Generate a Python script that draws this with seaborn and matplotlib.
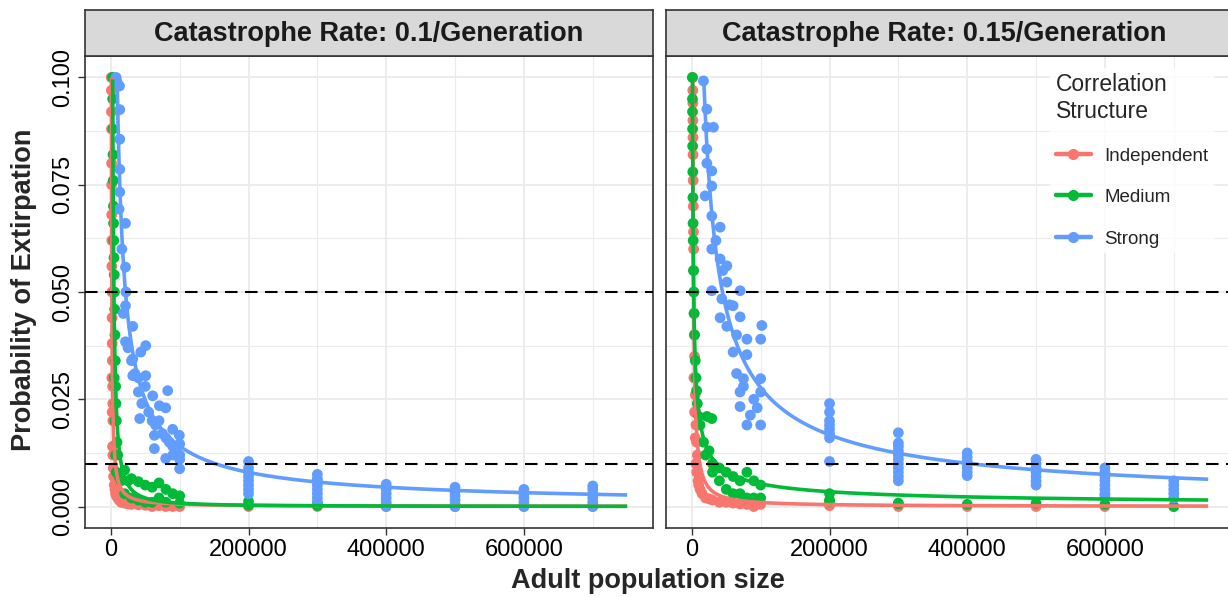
import numpy as np
import pandas as pd
import matplotlib
matplotlib.use("Agg")
import matplotlib.pyplot as plt
from matplotlib.lines import Line2D
import seaborn as sns

# ---------------- data ----------------
panels = ["Catastrophe Rate: 0.1/Generation", "Catastrophe Rate: 0.15/Generation"]
structures = ["Independent", "Medium", "Strong"]
colors = ["#F8766D", "#00BA38", "#619CFF"]
x_ticks = [0, 200000, 400000, 600000]
y_ticks = [0.000, 0.025, 0.050, 0.075, 0.100]
y_tick_labels = ["0.000", "0.025", "0.050", "0.075", "0.100"]
thresholds = [0.05, 0.01]

# Panel 1: catastrophe rate 0.1
p1_ind_x = [600, 800, 900, 1000, 1100, 1200, 1300, 1400, 1500, 1600, 1800, 2000, 2200, 2500, 2800,
            3000, 1500, 2000, 2500, 3000, 3500, 4000, 5000, 6000, 7000, 8000, 10000, 12000, 15000,
            20000, 25000, 30000, 40000, 50000, 60000, 70000, 80000, 90000, 100000,
            200000, 300000, 400000, 500000, 600000, 700000]
p1_ind_y = [0.100, 0.097, 0.092, 0.088, 0.080, 0.075, 0.068, 0.062, 0.056, 0.050, 0.044, 0.038,
            0.034, 0.028, 0.024, 0.020, 0.030, 0.022, 0.014, 0.012, 0.009, 0.007, 0.005, 0.004,
            0.003, 0.0025, 0.002, 0.0015, 0.001, 0.0008, 0.0006, 0.0005, 0.0004, 0.0003, 0.0,
            0.0002, 0.0, 0.0, 0.0, 0.0, 0.0, 0.0, 0.0, 0.0, 0.0]

p1_med_x = [2500, 2700, 3000, 3200, 3500, 3800, 4000, 4300, 4600, 5000, 5300, 5600, 6000, 6500,
            7000, 7500, 8000, 9000, 10000, 5000, 6000, 7000, 8000, 12000, 15000, 20000, 20000,
            25000, 30000, 30000, 40000, 40000, 50000, 50000, 60000, 60000, 70000, 70000, 80000,
            80000, 90000, 100000, 100000, 200000, 200000, 300000, 300000, 400000, 500000, 600000,
            700000]
p1_med_y = [0.100, 0.095, 0.088, 0.082, 0.076, 0.070, 0.066, 0.062, 0.058, 0.054, 0.050, 0.046,
            0.040, 0.034, 0.028, 0.024, 0.020, 0.015, 0.012, 0.030, 0.020, 0.012, 0.008, 0.007,
            0.006, 0.0085, 0.003, 0.006, 0.0065, 0.002, 0.0058, 0.0015, 0.005, 0.001, 0.0045,
            0.001, 0.0055, 0.002, 0.004, 0.001, 0.003, 0.0025, 0.0008, 0.0012, 0.0003, 0.0008,
            0.0002, 0.0003, 0.0002, 0.0002, 0.0002]

p1_str_x = [7700, 9000, 12600, 13000, 13000, 13000, 13000, 12000, 21300, 21300, 22000, 21300,
            31900, 21300, 50700, 43500, 31900, 31900, 50700, 40000, 82600, 60900, 42000, 70500,
            79700, 63300, 89800, 99500, 63300, 79700, 100000, 100000, 100000, 90000, 70000, 50000,
            30000, 40000, 60000, 80000, 90000, 100000, 55000, 65000, 75000, 85000, 95000, 35000,
            45000, 25000, 16000, 18000,
            200000, 200000, 200000, 200000, 200000, 200000, 200000, 200000,
            300000, 300000, 300000, 300000, 300000, 300000, 300000, 300000,
            400000, 400000, 400000, 400000, 400000, 400000,
            500000, 500000, 500000, 500000, 500000, 500000,
            600000, 600000, 600000, 600000, 600000,
            700000, 700000, 700000, 700000, 700000, 700000]
p1_str_y = [0.100, 0.099, 0.098, 0.0925, 0.0856, 0.0786, 0.0733, 0.0693, 0.066, 0.0558, 0.050,
            0.0468, 0.042, 0.0384, 0.0375, 0.036, 0.0344, 0.0305, 0.0305, 0.0267, 0.027, 0.0258,
            0.0205, 0.0235, 0.023, 0.0166, 0.018, 0.0166, 0.0135, 0.0112, 0.0088, 0.0146, 0.012,
            0.014, 0.020, 0.028, 0.034, 0.030, 0.020, 0.016, 0.012, 0.011, 0.022, 0.019, 0.017,
            0.015, 0.013, 0.031, 0.024, 0.037, 0.060, 0.045,
            0.0105, 0.009, 0.008, 0.007, 0.006, 0.005, 0.004, 0.003,
            0.0075, 0.0065, 0.006, 0.005, 0.004, 0.003, 0.002, 0.001,
            0.0052, 0.004, 0.003, 0.002, 0.001, 0.0,
            0.0045, 0.0035, 0.0025, 0.0015, 0.0005, 0.0,
            0.004, 0.003, 0.002, 0.001, 0.0,
            0.0048, 0.004, 0.003, 0.002, 0.001, 0.0]

# Panel 2: catastrophe rate 0.15
p2_ind_x = [1200, 1400, 1500, 1600, 1700, 1800, 2000, 2200, 2400, 2600, 2800, 3000, 3300, 3600,
            4000, 4500, 5000, 5500, 6000, 7000, 8000, 3000, 4000, 5000, 6000, 7000, 9000, 10000,
            12000, 15000, 20000, 25000, 30000, 40000, 50000, 60000, 70000, 80000, 90000, 100000,
            200000, 300000, 400000, 500000, 600000, 700000]
p2_ind_y = [0.100, 0.097, 0.094, 0.090, 0.086, 0.082, 0.076, 0.070, 0.064, 0.060, 0.055, 0.050,
            0.045, 0.040, 0.035, 0.030, 0.026, 0.022, 0.019, 0.015, 0.012, 0.030, 0.022, 0.016,
            0.010, 0.008, 0.006, 0.005, 0.004, 0.003, 0.002, 0.0018, 0.0015, 0.001, 0.001,
            0.0008, 0.0006, 0.0005, 0.0, 0.0005, 0.0002, 0.0, 0.0, 0.0, 0.0, 0.0]

p2_med_x = [800, 900, 1000, 1100, 1200, 1400, 1600, 1800, 2000, 2400, 2800, 3300, 4000, 5000,
            6000, 7000, 8000, 10000, 12000, 22000, 29000, 17000, 20000, 25000, 30000, 30000,
            40000, 40000, 50000, 50000, 60000, 60000, 70000, 70000, 80000, 80000, 90000, 90000,
            100000, 100000, 200000, 200000, 200000, 300000, 300000, 400000, 500000, 600000, 700000]
p2_med_y = [0.100, 0.095, 0.092, 0.088, 0.084, 0.078, 0.072, 0.066, 0.062, 0.055, 0.050, 0.045,
            0.040, 0.034, 0.030, 0.027, 0.024, 0.021, 0.019, 0.021, 0.0205, 0.015, 0.012, 0.013,
            0.008, 0.010, 0.006, 0.009, 0.004, 0.008, 0.003, 0.007, 0.003, 0.006, 0.002, 0.008,
            0.002, 0.006, 0.002, 0.005, 0.003, 0.0015, 0.0012, 0.0006, 0.0008, 0.0005, 0.0008,
            0.0005, 0.0]

p2_str_x = [16900, 21800, 21800, 31400, 21800, 21800, 29000, 29000, 19300, 29000, 41100, 29000,
            41100, 50900, 50900, 29000, 70200, 43600, 60000, 70200, 41100, 101700, 50900, 80000,
            100000, 60000, 80000, 75000, 100000, 70000, 100000, 70000, 85000, 100000, 80000, 95000,
            35000, 45000, 55000, 65000, 90000, 65000, 75000,
            200000, 200000, 200000, 200000, 200000, 200000, 200000, 200000,
            300000, 300000, 300000, 300000, 300000, 300000, 300000, 300000, 300000, 300000, 300000,
            400000, 400000, 400000, 400000, 400000, 400000, 400000,
            500000, 500000, 500000, 500000, 500000, 500000, 500000,
            600000, 600000, 600000, 600000, 600000, 600000, 600000, 600000,
            700000, 700000, 700000, 700000, 700000]
p2_str_y = [0.0992, 0.0926, 0.0884, 0.0884, 0.0833, 0.080, 0.0782, 0.0747, 0.0724, 0.0677, 0.0651,
            0.060, 0.0577, 0.0561, 0.0523, 0.0503, 0.0503, 0.0484, 0.0468, 0.0442, 0.044, 0.0422,
            0.042, 0.039, 0.039, 0.036, 0.0354, 0.0298, 0.0298, 0.0267, 0.0267, 0.0233, 0.0213,
            0.019, 0.019, 0.023, 0.062, 0.055, 0.047, 0.040, 0.025, 0.031, 0.028,
            0.024, 0.022, 0.020, 0.019, 0.018, 0.017, 0.016, 0.0105,
            0.0172, 0.0148, 0.014, 0.013, 0.012, 0.011, 0.010, 0.009, 0.008, 0.007, 0.006,
            0.0125, 0.0115, 0.0105, 0.010, 0.009, 0.008, 0.0072,
            0.011, 0.010, 0.009, 0.008, 0.007, 0.006, 0.005,
            0.009, 0.008, 0.007, 0.006, 0.005, 0.004, 0.003, 0.0025,
            0.006, 0.005, 0.004, 0.003, 0.002]

curve_x_max = 750000

series = {
    (panels[0], "Independent"): (p1_ind_x, p1_ind_y),
    (panels[0], "Medium"): (p1_med_x, p1_med_y),
    (panels[0], "Strong"): (p1_str_x, p1_str_y),
    (panels[1], "Independent"): (p2_ind_x, p2_ind_y),
    (panels[1], "Medium"): (p2_med_x, p2_med_y),
    (panels[1], "Strong"): (p2_str_x, p2_str_y),
}
rows = []
for (pan, st), (xs, ys) in series.items():
    for xv, yv in zip(xs, ys):
        rows.append({"panel": pan, "structure": st, "x": xv, "y": yv})
df = pd.DataFrame(rows)


def fit_power(x, y):
    """least-squares fit of y = a * x^-b (grid over b, closed form a)"""
    x = np.asarray(x, float)
    y = np.asarray(y, float)
    best = None
    for b in np.linspace(0.05, 3.0, 591):
        f = x ** (-b)
        a = (y @ f) / (f @ f)
        sse = ((y - a * f) ** 2).sum()
        if best is None or sse < best[0]:
            best = (sse, a, b)
    return best[1], best[2]


fit_rows = []
for (pan, st), (xs, ys) in series.items():
    a, b = fit_power(xs, ys)
    grid = np.geomspace(min(xs), curve_x_max, 800)
    pred = a * grid ** (-b)
    pred = np.where(pred > 0.1, np.nan, pred)
    for g, p in zip(grid, pred):
        fit_rows.append({"panel": pan, "structure": st, "x": g, "y": p})
fits = pd.DataFrame(fit_rows)

# ---------------- styling ----------------
sns.set_theme(style="white")
plt.rcParams["font.family"] = ["Liberation Sans", "DejaVu Sans"]

W, H = 1228, 597
fig = plt.figure(figsize=(W / 100, H / 100), dpi=100)
palette = dict(zip(structures, colors))

panel_px = [(85, 653), (666, 1234)]
top_px, bot_px = 56, 528
strip_top = 10

axes = []
for i, pan in enumerate(panels):
    l, r = panel_px[i]
    ax = fig.add_axes([l / W, 1 - bot_px / H, (r - l) / W, (bot_px - top_px) / H])
    axes.append(ax)
    ax.set_facecolor("white")
    ax.set_xlim(-37500, 787500)
    ax.set_ylim(-0.005, 0.105)
    for gx in [0, 200000, 400000, 600000]:
        ax.axvline(gx, color="#EBEBEB", lw=1.3, zorder=0)
    for gx in [100000, 300000, 500000, 700000]:
        ax.axvline(gx, color="#EBEBEB", lw=0.8, zorder=0)
    for gy in y_ticks:
        ax.axhline(gy, color="#EBEBEB", lw=1.3, zorder=0)
    for gy in [0.0125, 0.0375, 0.0625, 0.0875]:
        ax.axhline(gy, color="#EBEBEB", lw=0.8, zorder=0)

    sub = df[df.panel == pan]
    sns.scatterplot(data=sub, x="x", y="y", hue="structure", hue_order=structures,
                    palette=palette, s=60, edgecolor="none", linewidth=0, legend=False,
                    ax=ax, zorder=2)
    fsub = fits[fits.panel == pan]
    for st in structures:
        d = fsub[fsub.structure == st]
        ax.plot(d.x, d.y, color=palette[st], lw=2.6, zorder=3, solid_capstyle="butt")

    for t in thresholds:
        ax.axhline(t, color="black", lw=1.5, ls=(0, (6, 3.6)), zorder=4)

    ax.set_xticks(x_ticks)
    ax.set_xticklabels([str(v) for v in x_ticks], fontsize=17, color="black")
    ax.set_yticks(y_ticks)
    if i == 0:
        ax.set_yticklabels(y_tick_labels, fontsize=17, rotation=90, va="center", color="black")
    else:
        ax.set_yticklabels([])
    ax.tick_params(axis="both", length=5, width=1, color="#333333", pad=3,
                   left=True, bottom=True)
    if i == 1:
        ax.tick_params(axis="y", length=0)
    ax.set_xlabel("")
    ax.set_ylabel("")
    for sp in ax.spines.values():
        sp.set_color("#333333")
        sp.set_linewidth(1.2)

    # strip
    sax = fig.add_axes([l / W, 1 - top_px / H, (r - l) / W, (top_px - strip_top) / H])
    sax.set_facecolor("#D9D9D9")
    sax.set_xticks([])
    sax.set_yticks([])
    for sp in sax.spines.values():
        sp.set_color("#333333")
        sp.set_linewidth(1.2)
    cx = 0.5 if i == 0 else ((l + r) / 2 - 6 - l) / (r - l)
    sax.text(cx, 0.47, pan, ha="center", va="center", fontsize=19.5,
             fontweight="bold", color="#1A1A1A", transform=sax.transAxes)

# legend in panel 2
handles = [Line2D([0], [0], color=c, lw=3.2, marker="o", markersize=7) for c in colors]
leg = axes[1].legend(handles, structures, title="Correlation\nStructure",
                     loc="upper left", bbox_to_anchor=((1050 - 666) / 568, 0.975),
                     frameon=True, fontsize=13.5, title_fontsize=16.5,
                     handlelength=1.9, labelspacing=1.3, handletextpad=0.7,
                     borderpad=0.3, borderaxespad=0)
leg.get_frame().set_facecolor("white")
leg.get_frame().set_edgecolor("white")
leg.get_frame().set_linewidth(0)
leg._legend_box.align = "left"
leg.set_zorder(10)

fig.text(648 / W, 1 - 581 / H, "Adult population size", ha="center", va="center",
         fontsize=19.5, fontweight="bold")
fig.text(24 / W, 1 - 290 / H, "Probability of Extirpation", ha="center", va="center",
         rotation=90, fontsize=19.5, fontweight="bold")

fig.savefig("out.png", dpi=100)
